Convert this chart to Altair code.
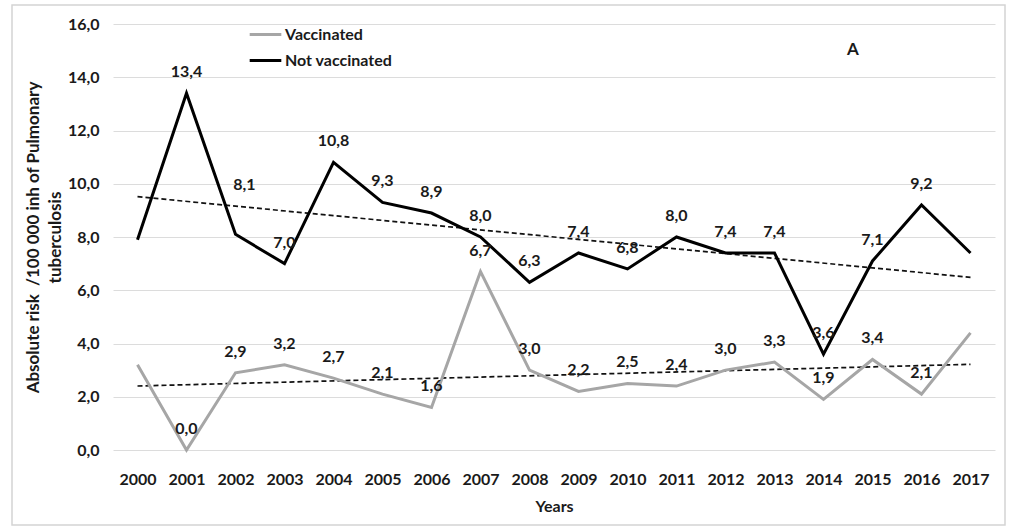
import altair as alt
import pandas as pd

years = list(range(2000, 2018))
vaccinated = [3.2, 0.0, 2.9, 3.2, 2.7, 2.1, 1.6, 6.7, 3.0, 2.2, 2.5, 2.4, 3.0, 3.3, 1.9, 3.4, 2.1, 4.4]
not_vaccinated = [7.9, 13.4, 8.1, 7.0, 10.8, 9.3, 8.9, 8.0, 6.3, 7.4, 6.8, 8.0, 7.4, 7.4, 3.6, 7.1, 9.2, 7.4]
series_names = ["Vaccinated", "Not vaccinated"]
y_ticks = [0, 2, 4, 6, 8, 10, 12, 14, 16]

rows = []
for name, vals in zip(series_names, [vaccinated, not_vaccinated]):
    for y, v in zip(years, vals):
        rows.append({"year": y, "value": v, "series": name})
df = pd.DataFrame(rows)

FONT = "Lato"
W, H = 882, 426
TXT = "#1a1a1a"

base = alt.Chart(df)

x_enc = alt.X("year:Q", scale=alt.Scale(domain=[1999.5, 2017.5], nice=False, zero=False),
              axis=alt.Axis(values=years, format="d", grid=False, ticks=False, domain=False,
                            labelPadding=21, title="Years", titlePadding=11,
                            labelFontSize=16, labelFontWeight="bold", labelColor=TXT,
                            titleFontSize=16, titleFontWeight="bold", titleColor=TXT,
                            labelFont=FONT, titleFont=FONT))
y_enc = alt.Y("value:Q", scale=alt.Scale(domain=[0, 16], nice=False),
              axis=alt.Axis(values=y_ticks, grid=True, gridColor="#dcdcdc", gridWidth=1,
                            ticks=False, domain=False, labelPadding=14,
                            labelExpr="replace(format(datum.value, '.1f'), '.', ',')",
                            title=["Absolute risk \u00a0/100 000 inh of Pulmonary", "tuberculosis"],
                            titlePadding=3, titleLineHeight=22,
                            labelFontSize=16, labelFontWeight="bold", labelColor=TXT,
                            titleFontSize=17, titleFontWeight="bold", titleColor=TXT,
                            labelFont=FONT, titleFont=FONT))

lines = base.mark_line(strokeWidth=3).encode(
    x=x_enc,
    y=y_enc,
    color=alt.Color("series:N", scale=alt.Scale(domain=series_names, range=["#a6a6a6", "#000000"]),
                    sort=series_names,
                    legend=alt.Legend(title=None, orient="none", legendX=135, legendY=-7,
                                      symbolType="stroke", symbolSize=1000, symbolStrokeWidth=3,
                                      labelFontSize=16, labelFont=FONT, labelFontWeight="bold",
                                      labelColor=TXT, labelOffset=2, rowPadding=-8)),
    detail="series:N",
)

trend = base.transform_regression("year", "value", groupby=["series"], extent=[2000, 2017]).mark_line(
    strokeWidth=1.7, strokeDash=[5, 3], color="#111111"
).encode(x="year:Q", y="value:Q", detail="series:N")

lab_expr = "replace(format(datum.value, '.1f'), '.', ',')"
inner = (alt.datum.year > 2000) & (alt.datum.year < 2017)
raised = (alt.datum.year == 2002) & (alt.datum.series == "Not vaccinated")

labels = base.transform_filter(inner).transform_filter(~raised).transform_calculate(
    lab=lab_expr
).mark_text(dy=-21, fontSize=16, font=FONT, fontWeight="bold", color=TXT).encode(
    x="year:Q", y="value:Q", text="lab:N"
)

labels_raised = base.transform_filter(raised).transform_calculate(
    lab=lab_expr
).mark_text(dy=-49, dx=9, fontSize=16, font=FONT, fontWeight="bold", color=TXT).encode(
    x="year:Q", y="value:Q", text="lab:N"
)

letter = alt.Chart(pd.DataFrame({"t": ["A"]})).mark_text(
    fontSize=17, font=FONT, fontWeight="bold", color=TXT
).encode(x=alt.value(740), y=alt.value(26), text="t:N")

frame = alt.Chart(pd.DataFrame({"t": [0]})).mark_rect(
    fill=None, stroke="#d4d4d4", strokeWidth=1.5
).encode(x=alt.value(-101), x2=alt.value(892), y=alt.value(-19), y2=alt.value(501))

chart = alt.layer(frame, trend, lines, labels, labels_raised, letter).properties(
    width=W, height=H,
    autosize=alt.AutoSizeParams(type="none"),
    padding={"left": 113, "top": 24, "right": 18, "bottom": 81},
    background="white",
).configure_view(stroke=None)

chart.save("out.html", embed_options={"renderer": "svg", "actions": False})
